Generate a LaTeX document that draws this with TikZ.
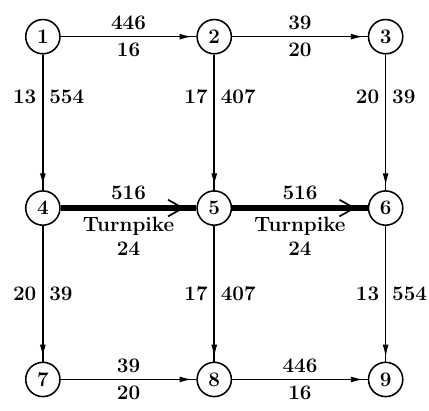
\documentclass[tikz,border=0pt]{standalone}
\usepackage{tikz}
\usetikzlibrary{arrows.meta, decorations.markings}

\begin{document}
\begin{tikzpicture}[x=3.5cm, y=3.5cm, font=\large\bfseries,
		junction/.style={circle, draw, line width=0.9pt, minimum size=0.7cm, inner sep=0pt},
		road/.style={line width=0.9pt, postaction={decorate},
			decoration={markings, mark=at position 0.97 with {\arrow{Latex[length=2.6mm,width=1.2mm]}}}},
		turnpike/.style={line width=3.5pt, postaction={decorate},
			decoration={markings, mark=at position 0.9 with {\draw[line width=1pt] (-3mm,1.7mm) -- (0,0) -- (-3mm,-1.7mm);}}}]
			\useasboundingbox (-0.25,-0.18) rectangle (2.253,2.214);
			% intersections
			\foreach \n/\x/\y in {1/0/2, 2/1/2, 3/2/2, 4/0/1, 5/1/1, 6/2/1, 7/0/0, 8/1/0, 9/2/0}
				\node[junction] (j\n) at (\x,\y) {\n};
			% ordinary roads
			\foreach \a/\b/\up/\dn in {1/2/446/16, 2/3/39/20, 7/8/39/20, 8/9/446/16}
				\draw[road] (j\a) -- node[above]{\up} node[below]{\dn} (j\b);
			\foreach \a/\b/\lf/\rt/\p in {1/4/13/554/0.31, 2/5/17/407/0.31, 3/6/20/39/0.31, 4/7/20/39/0.5, 5/8/17/407/0.5, 6/9/13/554/0.5}
				\draw[road] (j\a) -- node[pos=\p, left]{\lf} node[pos=\p, right]{\rt} (j\b);
			% the turnpike
			\foreach \a/\b in {4/5, 5/6}
				\draw[turnpike] (j\a) -- node[above]{516} node[below, align=center]{Turnpike\\24} (j\b);
		\end{tikzpicture}
\end{document}
